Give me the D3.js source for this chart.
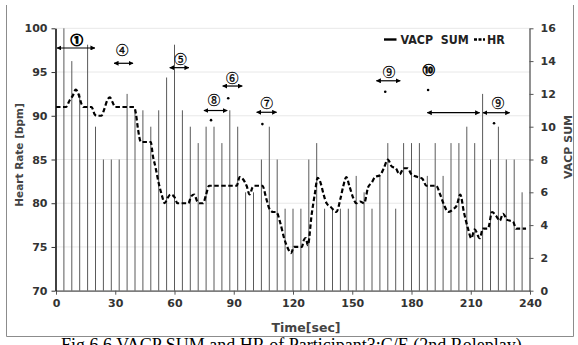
<!DOCTYPE html>
<html>
<head>
<meta charset="utf-8">
<script src="https://cdn.jsdelivr.net/npm/d3@7"></script>
<style>
  body { margin: 0; background: #fff; }
  svg { display: block; }
</style>
</head>
<body>
<svg id="chart" width="578" height="345"></svg>
<script>
// VACP SUM bars, one every 4 sec
const vacpTime = [4, 8, 12, 16, 20, 24, 28, 32, 36, 40, 44, 48, 52, 56, 60, 64, 68, 72, 76, 80,
  84, 88, 92, 96, 100, 104, 108, 112, 116, 120, 124, 128, 132, 136, 140, 144, 148, 152, 156,
  160, 164, 168, 172, 176, 180, 184, 188, 192, 196, 200, 204, 208, 212, 216, 220, 224, 228, 232, 236];
const vacpSum = [16, 14, 12, 15, 10, 8, 8, 8, 12, 11, 11, 10, 11, 13, 15, 11, 10, 9, 10, 10,
  9, 11, 10, 6, 6, 8, 10, 8, 5, 5, 5, 8, 9, 5, 5, 5, 5, 7, 6,
  5, 7, 9, 5, 9, 9, 9, 7, 9, 7, 9, 9, 10, 9, 12, 8, 10, 8, 8, 6];

// heart rate
const hrTime = [0, 5, 7, 8.5, 10, 11.5, 13, 14, 18, 19.5, 20.5, 23, 24.5, 26, 27.3, 28.5, 30, 39.5, 40.5, 41.5,
  43, 48, 49, 50.5, 52, 53.5, 55, 56.5, 58, 60, 61.5, 67, 68.5, 70, 71.5, 72.5, 74.5, 76, 77.5, 91.5,
  93, 94.5, 96.5, 98, 99.5, 100.5, 104.5, 106.5, 108, 110, 111.5, 113.5, 115.5, 117.5, 119, 120.5, 124.5, 125.5, 126.5, 127.5,
  129.5, 131, 132.5, 134, 135.5, 137, 139, 142, 144, 145.5, 147, 148.5, 150.5, 152, 154, 156, 158, 160, 161.5, 164,
  166, 168, 170, 172, 174, 176, 178, 180, 183, 185.5, 187.5, 192.5, 194.5, 196.5, 198.5, 201, 203, 204.7, 206.5, 208.5,
  210.3, 212, 214.5, 216.2, 218.7, 220.8, 223, 224.7, 226.3, 228.5, 231.4, 233, 238];
const hrValue = [91, 91, 91.8, 92.3, 93, 92.4, 91.3, 91, 91, 90.2, 90, 90, 90.8, 91.8, 92.1, 91.6, 91, 91, 90.2, 88.5,
  87, 87, 85.5, 84, 82.3, 81, 80, 80.6, 81, 80.7, 80, 80, 80.8, 81, 80.2, 80, 80, 81, 82, 82,
  83, 82.8, 82, 81, 81.8, 82, 82, 80.5, 79.4, 79, 79, 77.8, 76, 74.8, 74.3, 75, 75, 75.8, 76, 75.2,
  78.8, 81, 82.9, 82.3, 81, 80, 79.6, 79, 80.5, 82, 83, 82, 80.6, 80, 80.2, 80, 81.8, 82.4, 83, 83.2,
  84, 85, 84.2, 84, 83.3, 84, 84, 83.3, 83, 82.8, 82, 82, 81, 79.8, 79, 79.3, 79.8, 81, 79, 77.2,
  76, 77, 76, 77.1, 77.1, 79, 78.5, 78, 78.8, 78.1, 77.9, 77.1, 77.1];

const xTicks = [0, 30, 60, 90, 120, 150, 180, 210, 240];
const hrTicks = [70, 75, 80, 85, 90, 95, 100];
const vacpTicks = [0, 2, 4, 6, 8, 10, 12, 14, 16];

// scene annotations (time, bpm)
const noteLabel = ["①", "④", "⑤", "⑥", "⑧", "⑦", "⑨", "⑩", "⑨"];
const noteTime = [10.5, 33.6, 63.1, 89.3, 80, 106.7, 168.6, 188.7, 223.8];
const noteHr = [98.6, 97.5, 96.4, 94.3, 91.8, 91.4, 95.0, 95.2, 91.4];
const arrowFrom = [0.5, 29.4, 57.6, 84.4, 74.9, 101.6, 162.2, 188, 216.2];
const arrowTo = [19.7, 39, 67.3, 94.3, 86.7, 111.7, 174.3, 214.5, 229.7];
const arrowHr = [97.75, 96.0, 95.5, 93.4, 90.6, 90.4, 94.0, 90.35, 90.35];
const dotTime = [87.2, 78.5, 104.5, 166.7, 188.4, 221.8];
const dotHr = [92.0, 89.5, 89.05, 92.75, 92.95, 89.14];

const svg = d3.select("#chart");

const x = d3.scaleLinear().domain([0, 240]).range([56, 530]);
const yHr = d3.scaleLinear().domain([70, 100]).range([290.7, 28.3]);
const yVacp = d3.scaleLinear().domain([0, 16]).range([290.7, 28.3]);

// outer frame
svg.append("path")
  .attr("d", "M6.5,5V336.5H573.5V5")
  .attr("fill", "none")
  .attr("stroke", "#8c8c8c");

// grid
svg.append("g")
  .selectAll("line")
  .data(hrTicks)
  .enter().append("line")
  .attr("x1", x(0)).attr("x2", x(240))
  .attr("y1", d => yHr(d)).attr("y2", d => yHr(d))
  .attr("stroke", "#e8e8e8");

// bars
svg.append("g")
  .selectAll("line")
  .data(vacpTime)
  .enter().append("line")
  .attr("x1", d => x(d)).attr("x2", d => x(d))
  .attr("y1", yVacp(0))
  .attr("y2", (d, i) => yVacp(vacpSum[i]))
  .attr("stroke", "#5a5a5a")
  .attr("stroke-width", 1);

// HR line
const hrLine = d3.line()
  .x((d, i) => x(hrTime[i]))
  .y(d => yHr(d))
  .curve(d3.curveMonotoneX);

svg.append("path")
  .datum(hrValue)
  .attr("d", hrLine)
  .attr("fill", "none")
  .attr("stroke", "#000")
  .attr("stroke-width", 2.2)
  .attr("stroke-dasharray", "4.5,2.5");

// axes
const tickFont = g => g.selectAll("text")
  .attr("font-family", "DejaVu Sans, sans-serif")
  .attr("font-weight", "bold")
  .attr("font-size", 11)
  .attr("fill", "#333");

svg.append("g")
  .attr("transform", "translate(0,290.7)")
  .call(d3.axisBottom(x).tickValues(xTicks).tickSize(4).tickSizeOuter(0).tickPadding(5))
  .call(tickFont)
  .call(g => g.select(".domain").attr("stroke", "#555").attr("stroke-width", 1.3))
  .call(g => g.selectAll(".tick line").attr("stroke", "#555"));

svg.append("g")
  .attr("transform", "translate(55.5,0)")
  .call(d3.axisLeft(yHr).tickValues(hrTicks).tickSize(4).tickSizeOuter(0).tickPadding(4))
  .call(tickFont)
  .call(g => g.select(".domain").attr("stroke", "#111").attr("stroke-width", 1.6))
  .call(g => g.selectAll(".tick line").attr("stroke", "#333"));

svg.append("g")
  .attr("transform", "translate(529.5,0)")
  .call(d3.axisRight(yVacp).tickValues(vacpTicks).tickSize(4).tickSizeOuter(0).tickPadding(7))
  .call(tickFont)
  .call(g => g.select(".domain").attr("stroke", "#555").attr("stroke-width", 1.3))
  .call(g => g.selectAll(".tick line").attr("stroke", "#555"));

// axis titles
svg.append("text")
  .attr("transform", "translate(23,155) rotate(-90)")
  .attr("text-anchor", "middle")
  .attr("font-family", "DejaVu Sans, sans-serif")
  .attr("font-weight", "bold")
  .attr("font-size", 10.5)
  .attr("fill", "#444")
  .text("Heart Rate [bpm]");

svg.append("text")
  .attr("transform", "translate(572,147) rotate(-90)")
  .attr("text-anchor", "middle")
  .attr("font-family", "DejaVu Sans, sans-serif")
  .attr("font-weight", "bold")
  .attr("font-size", 11)
  .attr("fill", "#444")
  .text("VACP SUM");

svg.append("text")
  .attr("x", 306).attr("y", 331.5)
  .attr("text-anchor", "middle")
  .attr("font-family", "DejaVu Sans, sans-serif")
  .attr("font-weight", "bold")
  .attr("font-size", 12.5)
  .attr("fill", "#444")
  .text("Time[sec]");

// legend
const legend = svg.append("g")
  .attr("font-family", "DejaVu Sans Condensed, sans-serif")
  .attr("font-weight", "bold")
  .attr("font-size", 12.3)
  .attr("fill", "#222");
legend.append("line")
  .attr("x1", 384).attr("x2", 396.5).attr("y1", 39.5).attr("y2", 39.5)
  .attr("stroke", "#000").attr("stroke-width", 2.4);
legend.append("text").attr("x", 400.5).attr("y", 44).attr("xml:space", "preserve").text("VACP  SUM");
legend.append("line")
  .attr("x1", 474).attr("x2", 485).attr("y1", 39.5).attr("y2", 39.5)
  .attr("stroke", "#000").attr("stroke-width", 2.4).attr("stroke-dasharray", "3,1.5");
legend.append("text").attr("x", 487).attr("y", 44).text("HR");

// annotations
const defs = svg.append("defs");
defs.append("marker")
  .attr("id", "tip")
  .attr("viewBox", "0 0 10 10")
  .attr("refX", 9).attr("refY", 5)
  .attr("markerWidth", 5).attr("markerHeight", 5)
  .attr("markerUnits", "userSpaceOnUse")
  .attr("orient", "auto-start-reverse")
  .append("path").attr("d", "M0,0L10,5L0,10z").attr("fill", "#000");

svg.append("g")
  .selectAll("line")
  .data(arrowFrom)
  .enter().append("line")
  .attr("x1", d => x(d))
  .attr("x2", (d, i) => x(arrowTo[i]))
  .attr("y1", (d, i) => yHr(arrowHr[i]))
  .attr("y2", (d, i) => yHr(arrowHr[i]))
  .attr("stroke", "#000")
  .attr("stroke-width", 1.2)
  .attr("marker-start", "url(#tip)")
  .attr("marker-end", "url(#tip)");

svg.append("g")
  .selectAll("text")
  .data(noteLabel)
  .enter().append("text")
  .attr("x", (d, i) => x(noteTime[i]))
  .attr("y", (d, i) => yHr(noteHr[i]))
  .attr("dy", "0.36em")
  .attr("text-anchor", "middle")
  .attr("font-family", "Noto Sans CJK JP, sans-serif")
  .attr("font-weight", d => (d == "①" || d == "⑩") ? "bold" : "normal")
  .attr("font-size", 12.5)
  .attr("fill", "#000")
  .attr("stroke", "#000")
  .attr("stroke-width", d => d == "①" ? 1 : d == "⑩" ? 0.5 : 0.3)
  .text(d => d);

svg.append("g")
  .selectAll("circle")
  .data(dotTime)
  .enter().append("circle")
  .attr("cx", d => x(d))
  .attr("cy", (d, i) => yHr(dotHr[i]))
  .attr("r", 1.3)
  .attr("fill", "#000");

// caption (cut off at the bottom, as in the source)
svg.append("text")
  .attr("x", 61).attr("y", 350.5)
  .attr("font-family", "Liberation Serif, serif")
  .attr("font-size", 18)
  .attr("fill", "#000")
  .text("Fig.6.6 VACP SUM and HR of Participant3:C/E (2nd Roleplay)");
</script>
</body>
</html>
